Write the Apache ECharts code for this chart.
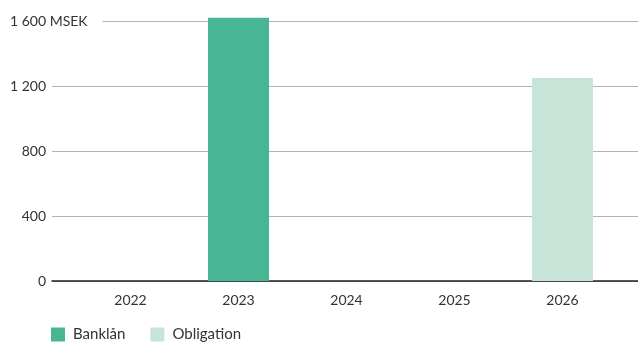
<!DOCTYPE html>
<html>
<head>
<meta charset="utf-8">
<script src="https://cdn.jsdelivr.net/npm/echarts@6/dist/echarts.min.js"></script>
<style>
  html, body { margin: 0; padding: 0; background: #fff; }
  #chart { width: 638px; height: 342px; }
</style>
</head>
<body>
<div id="chart"></div>
<script>
// Financing maturities per year (MSEK)
const years = ['2022', '2023', '2024', '2025', '2026'];
const bankLoans = [null, 1620, null, null, null];
const bonds = [null, null, null, null, 1250];
const yTicks = [0, 400, 800, 1200, 1600];
const unitLabel = '1 600 MSEK';

const FONT = 'Lato';
const TEXT = '#333333';

const chart = echarts.init(document.getElementById('chart'), null, { renderer: 'canvas' });

const yMin = yTicks[0];
const yMax = yTicks[yTicks.length - 1];
const yStep = yTicks[1] - yTicks[0];

const option = {
  animation: false,
  textStyle: { fontFamily: FONT },
  grid: [
    { left: 52, right: 0, top: 21, bottom: 61 },
    { left: 76.5, width: 540, top: 21, bottom: 61 }
  ],
  xAxis: [
    {
      gridIndex: 0, type: 'value', min: 0, max: 1,
      axisLine: { show: true, onZero: true, lineStyle: { color: '#222', width: 1.5 } },
      axisTick: { show: false }, axisLabel: { show: false }, splitLine: { show: false }
    },
    {
      gridIndex: 1, type: 'category', data: years,
      axisLine: { show: false }, axisTick: { show: false },
      axisLabel: { margin: 12, fontSize: 14, color: TEXT, fontFamily: FONT }
    }
  ],
  yAxis: [
    {
      gridIndex: 0, type: 'value', min: yMin, max: yMax, interval: yStep,
      axisLine: { show: false }, axisTick: { show: false },
      axisLabel: {
        margin: 6, fontSize: 14, color: TEXT, fontFamily: FONT,
        formatter: v => v === yMax ? '' : String(v).replace(/\B(?=(\d{3})+(?!\d))/g, ' ')
      },
      splitLine: { lineStyle: { color: '#b3b3b3', width: 1 } }
    },
    {
      gridIndex: 1, type: 'value', min: yMin, max: yMax, interval: yStep,
      show: false
    }
  ],
  legend: {
    left: 51, top: 327, padding: 0, itemWidth: 14, itemHeight: 14, itemGap: 25,
    icon: 'rect',
    textStyle: { fontSize: 15, color: TEXT, fontFamily: FONT, padding: [0, 0, 0, 3] },
    data: ['Banklån', 'Obligation']
  },
  series: [
    {
      name: 'Banklån', type: 'bar', xAxisIndex: 1, yAxisIndex: 1,
      stack: 'total', barWidth: 61, clip: false,
      itemStyle: { color: '#48b695' }, data: bankLoans
    },
    {
      name: 'Obligation', type: 'bar', xAxisIndex: 1, yAxisIndex: 1,
      stack: 'total', barWidth: 61, clip: false,
      itemStyle: { color: '#c6e4d8' }, data: bonds
    }
  ]
};

chart.setOption(option);

// Top tick label with unit, placed on the top gridline with a white backing
const topY = chart.convertToPixel({ yAxisIndex: 0 }, yMax);
chart.setOption({
  graphic: [{
    type: 'text', left: 10, top: topY - 10, z: 100,
    style: {
      text: unitLabel, fontSize: 14, fontFamily: FONT, fill: TEXT,
      backgroundColor: '#fff', padding: [2, 15, 2, 0], lineHeight: 16
    }
  }]
});
</script>
</body>
</html>
